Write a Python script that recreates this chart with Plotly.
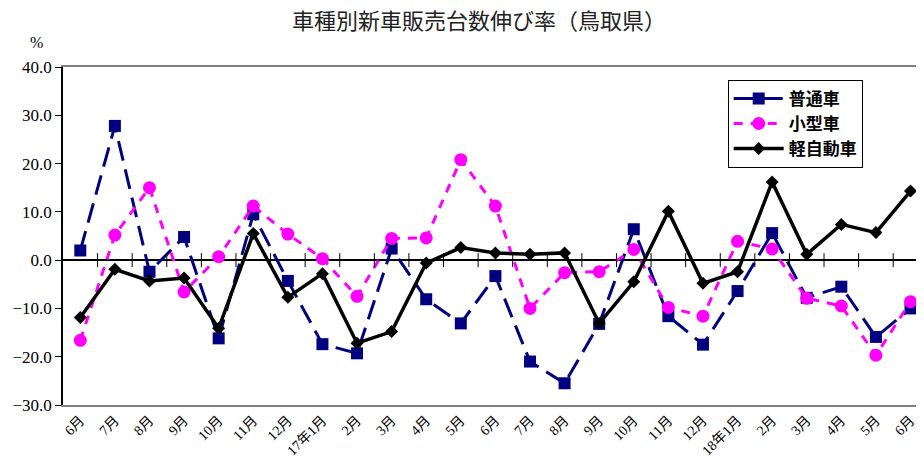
import plotly.graph_objects as go

months = ["6月", "7月", "8月", "9月", "10月", "11月", "12月", "17年1月", "2月", "3月", "4月", "5月",
          "6月", "7月", "8月", "9月", "10月", "11月", "12月", "18年1月", "2月", "3月", "4月", "5月", "6月"]

futsu = [2.0, 27.8, -2.4, 4.8, -16.2, 9.5, -4.3, -17.4, -19.3, 2.4, -8.1, -13.1,
         -3.3, -21.0, -25.5, -13.2, 6.4, -11.6, -17.5, -6.4, 5.6, -7.8, -5.5, -15.9, -10.0]
kogata = [-16.6, 5.2, 15.0, -6.6, 0.7, 11.2, 5.4, 0.3, -7.5, 4.5, 4.6, 20.8,
          11.2, -10.0, -2.6, -2.4, 2.2, -9.8, -11.6, 3.9, 2.3, -7.9, -9.5, -19.7, -8.6]
kei = [-11.9, -1.9, -4.3, -3.7, -14.1, 5.5, -7.7, -2.8, -17.2, -14.8, -0.6, 2.6,
       1.5, 1.2, 1.5, -13.1, -4.5, 10.1, -4.8, -2.4, 16.2, 1.2, 7.4, 5.7, 14.3]

ytick_vals = [40, 30, 20, 10, 0, -10, -20, -30]

x = list(range(len(months)))
boundaries = [i + 0.5 for i in range(len(months) - 1)]

serif = "Liberation Serif, Noto Sans CJK JP"
fig = go.Figure()

fig.add_trace(go.Scatter(
    x=x, y=futsu, name="普通車", mode="lines+markers",
    line=dict(color="#000080", width=3, dash="20px,9px"),
    marker=dict(symbol="square", size=12, color="#000080"),
))
fig.add_trace(go.Scatter(
    x=x, y=kogata, name="小型車", mode="lines+markers",
    line=dict(color="#FF00FF", width=3, dash="9px,8px"),
    marker=dict(symbol="circle", size=13, color="#FF00FF"),
))
fig.add_trace(go.Scatter(
    x=x, y=kei, name="軽自動車", mode="lines+markers",
    line=dict(color="#000000", width=3.5),
    marker=dict(symbol="diamond", size=10, color="#000000"),
))
# category boundary ticks crossing the zero line
fig.add_trace(go.Scatter(
    x=boundaries, y=[0] * len(boundaries), mode="markers", showlegend=False, hoverinfo="skip",
    marker=dict(symbol="line-ns", size=10, line=dict(color="#000000", width=1)),
))

fig.update_layout(
    width=916, height=453,
    margin=dict(l=55, r=0, t=59, b=56),
    paper_bgcolor="white", plot_bgcolor="white",
    showlegend=True,
    legend=dict(x=0.772, y=0.962, xanchor="left", yanchor="top",
                bgcolor="white", bordercolor="#000000", borderwidth=1,
                font=dict(family="Noto Sans CJK JP", size=17, color="#000000", weight="bold"),
                itemwidth=50, tracegroupgap=0),
    font=dict(family=serif, color="#000000"),
)

fig.update_xaxes(
    range=[-0.5, 24.39], tickvals=x, ticktext=months, tickangle=-45,
    showgrid=False, zeroline=False, showline=True, linecolor="#808080", linewidth=1.5,
    mirror=True, ticks="", tickfont=dict(family=serif, size=14, color="#000000"),
)
fig.update_yaxes(
    range=[-30, 40], tickvals=ytick_vals, tickformat=".1f",
    showgrid=False, zeroline=True, zerolinecolor="#000000", zerolinewidth=1.5,
    showline=True, linecolor="#000000", linewidth=1.5, ticks="outside", ticklen=6,
    tickcolor="#000000", tickfont=dict(family=serif, size=17, color="#000000"),
)

fig.add_annotation(text="車種別新車販売台数伸び率（鳥取県）", xref="paper", yref="paper",
                   x=0.483, y=1.142, xanchor="center", yanchor="middle", showarrow=False,
                   font=dict(family="Noto Sans CJK JP", size=22, color="#222222"))
fig.add_annotation(text="%", xref="paper", yref="paper", x=-0.021, y=1.04, xanchor="right",
                   yanchor="bottom", showarrow=False,
                   font=dict(family=serif, size=16, color="#000000"))

fig.write_html("out.html")
